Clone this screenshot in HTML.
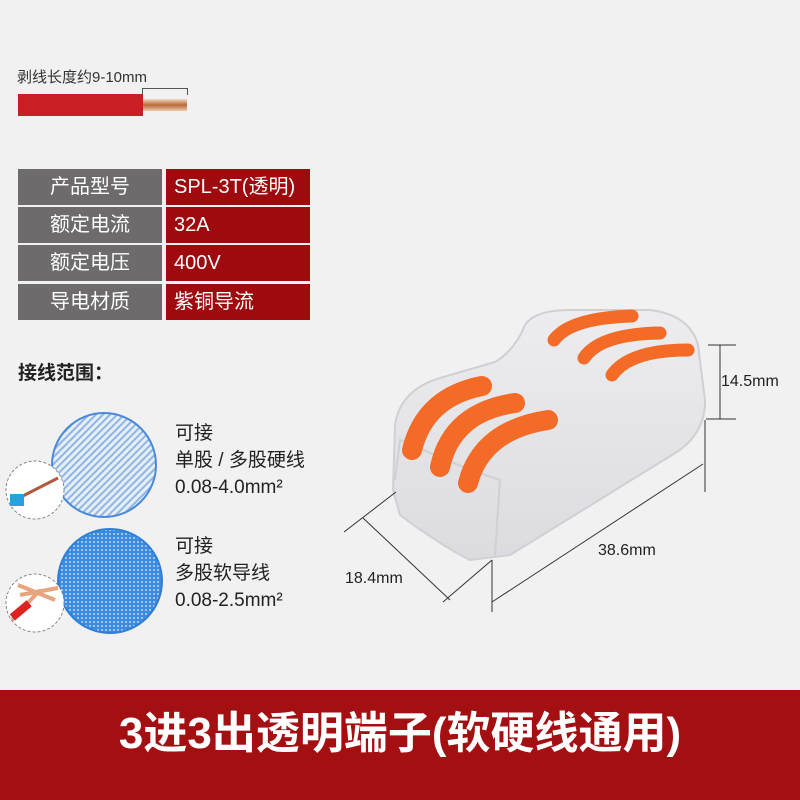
<!DOCTYPE html>
<html><head><meta charset="utf-8"><style>
body{margin:0;width:800px;height:800px;background:#f1f1f2;position:relative;overflow:hidden;font-family:"Liberation Sans","Noto Sans CJK SC",sans-serif;}
.a{position:absolute;}
.row{position:absolute;left:18px;width:292px;height:36px;}
.l{position:absolute;left:0;width:144px;height:36px;background:#6d6b6b;color:#fff;font-size:20px;text-align:center;line-height:36px;}
.r{position:absolute;left:148px;width:144px;height:36px;background:#9e0a0d;color:#fff;font-size:20px;line-height:36px;padding-left:8px;box-sizing:border-box;}
.t{font-size:19px;color:#222;line-height:27px;}
</style></head><body>
<div class="a" style="left:17px;top:66px;font-size:15px;color:#333">剥线长度约9-10mm</div>
<div class="a" style="left:18px;top:94px;width:125px;height:22px;background:#c81e24"></div>
<div class="a" style="left:143px;top:99px;width:44px;height:12px;background:linear-gradient(#f4d8c0,#b86a3c,#f0c9a8)"></div>
<div class="a" style="left:142px;top:88px;width:44px;height:6px;border:1px solid #555;border-bottom:none"></div>
<div class="row" style="top:169px"><div class="l">产品型号</div><div class="r">SPL-3T(透明)</div></div>
<div class="row" style="top:207px"><div class="l">额定电流</div><div class="r">32A</div></div>
<div class="row" style="top:245px"><div class="l">额定电压</div><div class="r">400V</div></div>
<div class="row" style="top:284px"><div class="l">导电材质</div><div class="r">紫铜导流</div></div>
<div class="a" style="left:18px;top:358px;font-size:19px;font-weight:bold;color:#222">接线范围：</div>
<svg class="a" style="left:0;top:0" width="800" height="800">
<defs>
<pattern id="h" width="5" height="5" patternUnits="userSpaceOnUse" patternTransform="rotate(45)"><rect width="5" height="5" fill="#e6eef8"/><rect width="2" height="5" fill="#8fb6e4"/></pattern>
<pattern id="d" width="4" height="4" patternUnits="userSpaceOnUse"><rect width="4" height="4" fill="#3b8be0"/><circle cx="2" cy="2" r="1" fill="#bcd8f6"/></pattern>
<linearGradient id="g" x1="0" y1="0" x2="0" y2="1"><stop offset="0" stop-color="#ededf0"/><stop offset="1" stop-color="#dcdce0"/></linearGradient>
</defs>
<circle cx="104" cy="465" r="52" fill="url(#h)" stroke="#4a8ad8" stroke-width="2"/>
<circle cx="35" cy="490" r="29" fill="#fff" stroke="#888" stroke-dasharray="3 2"/>
<line x1="15" y1="500" x2="58" y2="478" stroke="#b5573a" stroke-width="3"/>
<rect x="10" y="494" width="14" height="12" fill="#2aa0e0"/>
<circle cx="110" cy="581" r="52" fill="url(#d)" stroke="#2f7ed8" stroke-width="2"/>
<circle cx="35" cy="603" r="29" fill="#fff" stroke="#888" stroke-dasharray="3 2"/>
<path d="M12 620 L40 590 M18 585 L55 600 M20 595 L58 588" stroke="#e7a57f" stroke-width="4"/>
<rect x="10" y="607" width="22" height="8" fill="#d22" transform="rotate(-40 20 611)"/>
<!-- connector -->
<path d="M393 490 L395 425 Q400 390 440 378 L495 362 Q515 350 525 325 Q535 310 570 310 L650 310 Q690 315 698 345 L705 400 Q706 430 680 450 L510 555 L470 560 Q440 545 400 515 Z" fill="url(#g)" stroke="#cfcfd4" stroke-width="2"/>
<path d="M395 480 L400 440 L470 470 L500 480 L495 555" fill="none" stroke="#d0d0d4" stroke-width="2"/>
<g fill="none" stroke="#f36b26" stroke-linecap="round">
<path d="M554 340 Q570 318 632 316" stroke-width="13"/>
<path d="M584 358 Q600 334 660 333" stroke-width="13"/>
<path d="M612 375 Q630 350 688 350" stroke-width="13"/>
<path d="M412 450 Q425 397 482 386" stroke-width="20"/>
<path d="M440 467 Q452 412 515 403" stroke-width="20"/>
<path d="M468 483 Q482 430 548 420" stroke-width="20"/>
</g>
<g stroke="#333" stroke-width="1" fill="none">
<line x1="720" y1="345" x2="720" y2="419"/><line x1="708" y1="345" x2="736" y2="345"/><line x1="706" y1="419" x2="736" y2="419"/>
<line x1="705" y1="420" x2="705" y2="492"/>
<line x1="492" y1="602" x2="703" y2="464"/><line x1="492" y1="560" x2="492" y2="612"/>
<line x1="344" y1="532" x2="396" y2="492"/><line x1="363" y1="518" x2="450" y2="600"/><line x1="443" y1="602" x2="492" y2="560"/>
</g>
</svg>
<div class="a" style="left:721px;top:373px;font-size:16px;color:#222">14.5mm</div>
<div class="a" style="left:598px;top:542px;font-size:16px;color:#222">38.6mm</div>
<div class="a" style="left:345px;top:570px;font-size:16px;color:#222">18.4mm</div>
<div class="a t" style="left:175px;top:420px">可接<br>单股 / 多股硬线<br>0.08-4.0mm²</div>
<div class="a t" style="left:175px;top:533px">可接<br>多股软导线<br>0.08-2.5mm²</div>
<div class="a" style="left:0;top:690px;width:800px;height:110px;background:#a40f12"></div>
<div class="a" style="left:0;top:697px;width:800px;text-align:center;font-size:44px;font-weight:bold;color:#fff">3进3出透明端子(软硬线通用)</div>
</body></html>
